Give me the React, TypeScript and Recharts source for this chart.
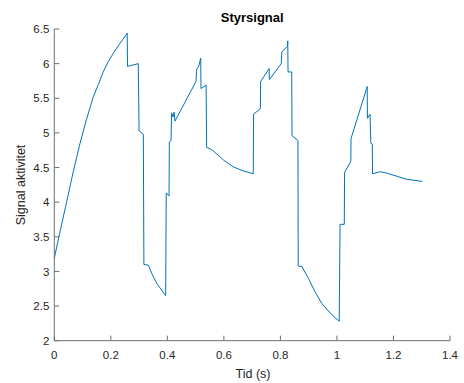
import { Line, LineChart, XAxis, YAxis } from "recharts";

// sampled from the reference plot (time in seconds)
const timeS = [
  0, 0.02, 0.044, 0.067, 0.091, 0.115, 0.138, 0.156, 0.173, 0.191, 0.209, 0.232, 0.258,
  0.259, 0.297, 0.3, 0.315, 0.317, 0.333, 0.345, 0.362, 0.394,
  0.396, 0.406, 0.407, 0.413, 0.415, 0.42, 0.424, 0.427, 0.501, 0.504,
  0.511, 0.518, 0.519, 0.537, 0.539, 0.557, 0.598, 0.633, 0.669, 0.704,
  0.705, 0.729, 0.73, 0.76, 0.761, 0.803, 0.805, 0.825, 0.826, 0.827,
  0.84, 0.841, 0.862, 0.863, 0.876, 0.899, 0.922, 0.946, 0.976, 1.008,
  1.011, 1.026, 1.027, 1.049, 1.05, 1.105, 1.107, 1.108, 1.117, 1.12,
  1.125, 1.126, 1.153, 1.176, 1.247, 1.302,
];

const signal = [
  3.19, 3.57, 4.01, 4.44, 4.85, 5.21, 5.52, 5.7, 5.88, 6.03, 6.15, 6.29, 6.44,
  5.96, 6.0, 5.03, 4.98, 3.1, 3.09, 2.97, 2.83, 2.65,
  4.13, 4.09, 4.87, 4.89, 5.29, 5.23, 5.3, 5.17, 5.74, 5.92,
  5.96, 6.08, 5.64, 5.69, 4.79, 4.76, 4.61, 4.51, 4.45, 4.41,
  5.27, 5.35, 5.74, 5.93, 5.77, 6.0, 6.17, 6.25, 6.33, 5.88,
  5.88, 4.96, 4.89, 3.08, 3.07, 2.9, 2.71, 2.54, 2.4, 2.28,
  3.68, 3.68, 4.43, 4.59, 4.92, 5.64, 5.67, 5.21, 5.27, 4.85,
  4.84, 4.41, 4.44, 4.42, 4.33, 4.3,
];

const xTicks = [0, 0.2, 0.4, 0.6, 0.8, 1, 1.2, 1.4];
const yTicks = [2, 2.5, 3, 3.5, 4, 4.5, 5, 5.5, 6, 6.5];

const points = timeS.map((t, i) => ({ t, signal: signal[i] }));

const font = "'Liberation Sans', Arial, sans-serif";
const axisColor = "#6f6f6f";
const tickText = { fill: "#262626", fontSize: 11.5, fontFamily: font };

export default function App() {
  return (
    <div style={{ position: "absolute", left: 0, top: 0 }}>
      <LineChart
        width={464}
        height={383}
        data={points}
        margin={{ top: 29, right: 14, bottom: 0, left: 0 }}
      >
        <XAxis
          xAxisId="bottom"
          dataKey="t"
          type="number"
          domain={[0, 1.4]}
          ticks={xTicks}
          tickFormatter={(v) => String(v)}
          height={42.3}
          tickSize={-5}
          tickMargin={15}
          stroke={axisColor}
          tick={tickText}
        />
        <XAxis
          xAxisId="top"
          orientation="top"
          dataKey="t"
          type="number"
          domain={[0, 1.4]}
          ticks={xTicks}
          height={0}
          tickSize={-5}
          stroke={axisColor}
          tick={false}
        />
        <YAxis
          yAxisId="left"
          type="number"
          domain={[2, 6.5]}
          ticks={yTicks}
          tickFormatter={(v) => String(v)}
          width={54.3}
          tickSize={-5}
          tickMargin={10}
          stroke={axisColor}
          tick={tickText}
        />
        <YAxis
          yAxisId="right"
          orientation="right"
          type="number"
          domain={[2, 6.5]}
          ticks={yTicks}
          width={0}
          tickSize={-5}
          stroke={axisColor}
          tick={false}
        />
        <Line
          xAxisId="bottom"
          yAxisId="left"
          type="linear"
          dataKey="signal"
          stroke="#0072BD"
          strokeWidth={1}
          dot={false}
          isAnimationActive={false}
        />
        <text
          x={252.2}
          y={22}
          textAnchor="middle"
          fontFamily={font}
          fontSize={13}
          fontWeight="bold"
          fill="#000"
        >
          Styrsignal
        </text>
        <text
          x={253}
          y={378}
          textAnchor="middle"
          fontFamily={font}
          fontSize={12.5}
          fill="#262626"
        >
          Tid (s)
        </text>
        <text
          x={25}
          y={185}
          textAnchor="middle"
          fontFamily={font}
          fontSize={12.5}
          fill="#262626"
          transform="rotate(-90, 25, 185)"
        >
          Signal aktivitet
        </text>
      </LineChart>
    </div>
  );
}
